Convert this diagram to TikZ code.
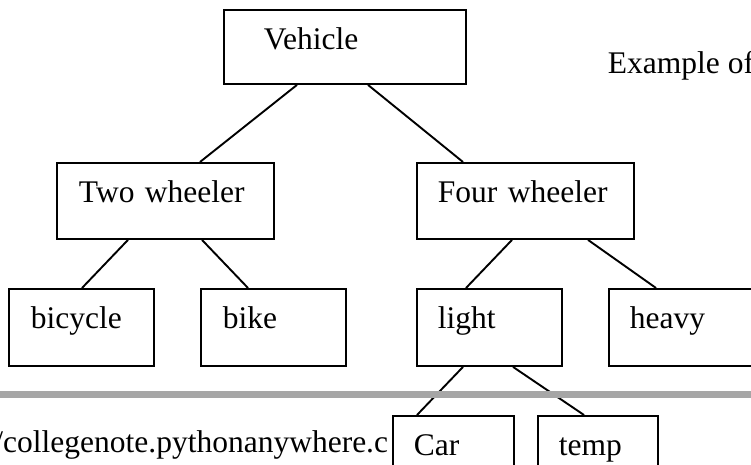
\documentclass[tikz,border=0pt]{standalone}
\usepackage{fontspec}
\setmainfont{Liberation Serif}
\definecolor{bargray}{HTML}{A6A6A6}
\tikzset{
  box/.style={draw, fill=white, anchor=north west, align=left, inner ysep=0pt, text height=40pt},
  note/.style={inner sep=0pt},
}

\begin{document}
\begin{tikzpicture}[x=1pt, y=-1pt, line width=1.9pt, font=\fontsize{31.5}{38}\selectfont]
    \clip (0,0) rectangle (751,465);
    % boxes
    \node [box, text width=162pt, inner xsep=40pt, text depth=34pt] (vehicle) at (223,9) {Vehicle};
    \node [box, text width=173pt, inner xsep=22pt, text depth=36pt] (two) at (56,162) {Two wheeler};
    \node [box, text width=175pt, inner xsep=21pt, text depth=36pt] (four) at (416,162) {Four wheeler};
    \node [box, text width=101pt, inner xsep=22pt, text depth=37pt] (bicycle) at (8,288) {bicycle};
    \node [box, text width=101pt, inner xsep=22pt, text depth=37pt] (bike) at (200,288) {bike};
    \node [box, text width=103pt, inner xsep=21pt, text depth=37pt] (light) at (416,288) {light};
    \node [box, text width=103pt, inner xsep=21pt, text depth=37pt] (heavy) at (608,288) {heavy};
    \node [note, anchor=base east] (link) at (389,452) {/collegenote.pythonanywhere.c};
    \node [box, text width=79pt, inner xsep=21pt, text depth=37pt] (car) at (392,415) {Car};
    \node [box, text width=78pt, inner xsep=21pt, text depth=37pt] (temp) at (537,415) {temp};
    \node [note, anchor=base west] (example) at (607,74) {Example of};
    % connectors
    \draw ([xshift=74pt]vehicle.south west) -- ([xshift=144pt]two.north west);
    \draw ([xshift=145pt]vehicle.south west) -- ([xshift=47pt]four.north west);
    \draw ([xshift=72pt]two.south west) -- ([xshift=74pt]bicycle.north west);
    \draw ([xshift=146pt]two.south west) -- ([xshift=48pt]bike.north west);
    \draw ([xshift=96pt]four.south west) -- ([xshift=50pt]light.north west);
    \draw ([xshift=172pt]four.south west) -- ([xshift=48pt]heavy.north west);
    \draw ([xshift=47pt]light.south west) -- ([xshift=25pt]car.north west);
    \draw ([xshift=97pt]light.south west) -- ([xshift=47pt]temp.north west);
    % page rule
    \fill [bargray] (0,391) rectangle (751,398);
\end{tikzpicture}
\end{document}
